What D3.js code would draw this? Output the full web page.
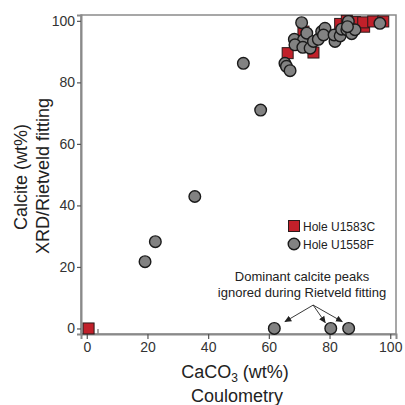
<!DOCTYPE html>
<html>
<head>
<meta charset="utf-8">
<script src="https://cdn.jsdelivr.net/npm/d3@7"></script>
<style>
  body { margin: 0; background: #fff; }
  text { font-family: "Liberation Sans", Arial, sans-serif; }
</style>
</head>
<body>
<div id="viz"></div>
<script>
// Hole U1583C (red squares): [CaCO3 coulometry, calcite XRD]
const holeU1583C = [
  [0.6, 0], [66.2, 89.5], [71.4, 96.5], [74.7, 89.7], [83.5, 99.0], [85.7, 100],
  [88.4, 99.6], [91.4, 98.1], [91.1, 99.5], [94.4, 99.8], [97.7, 99.8]
];

// Hole U1558F (grey circles)
const holeU1558F = [
  [19.2, 21.7], [22.6, 28.2], [35.6, 42.9], [51.6, 86.2], [57.3, 71.0],
  [61.8, 0], [80.4, 0], [86.3, 0],
  [65.3, 86.2], [65.8, 85.2], [67.0, 83.8],
  [70.8, 99.4], [68.4, 94.0], [71.4, 93.8], [68.6, 92.2], [71.2, 91.4], [73.6, 91.1],
  [72.5, 96.0], [74.7, 93.3], [76.3, 94.0], [77.4, 96.5], [78.5, 97.6], [78.0, 95.4],
  [81.8, 93.3], [81.5, 95.4], [83.5, 95.1], [84.0, 97.3], [86.2, 99.8], [85.7, 97.1],
  [87.3, 95.8], [88.4, 97.1], [85.9, 98.1], [96.6, 99.2]
];

const xTicks = [0, 20, 40, 60, 80, 100];
const yTicks = [0, 20, 40, 60, 80, 100];
const innerTicks = [3.7];

// annotation arrows (data units): one origin, three targets
const arrowFrom = [74.6, 7.6];
const arrowTo = [[65.3, 2.2], [78.6, 1.9], [84.2, 2.2]];
const noteLines = ["Dominant calcite peaks", "ignored during Rietveld fitting"];

const W = 405, H = 405;
const mLeft = 81, mRight = 396, mTop = 15, mBottom = 334;

const svg = d3.select("#viz").append("svg")
    .attr("width", W)
    .attr("height", H);

const x = d3.scaleLinear().domain([-1.9, 101.9]).range([mLeft, mRight]);
const y = d3.scaleLinear().domain([-1.8, 101.9]).range([mBottom, mTop]);

svg.append("defs").append("marker")
    .attr("id", "arrow")
    .attr("viewBox", "0 -5 10 10")
    .attr("refX", 9)
    .attr("refY", 0)
    .attr("orient", "auto")
    .attr("markerWidth", 7)
    .attr("markerHeight", 7)
    .attr("markerUnits", "userSpaceOnUse")
    .append("path")
    .attr("d", "M0,-4.5L10,0L0,4.5Z")
    .attr("fill", "#222");

// frame
svg.append("rect")
    .attr("x", mLeft).attr("y", mTop)
    .attr("width", mRight - mLeft).attr("height", mBottom - mTop)
    .attr("fill", "none")
    .attr("stroke", "#8a8a8a")
    .attr("stroke-width", 1.5);

// axes
const xAxis = svg.append("g")
    .attr("transform", "translate(0," + mBottom + ")")
    .call(d3.axisBottom(x).tickValues(xTicks).tickSize(5).tickPadding(3));
const yAxis = svg.append("g")
    .attr("transform", "translate(" + mLeft + ",0)")
    .call(d3.axisLeft(y).tickValues(yTicks).tickSize(4).tickPadding(2));

[xAxis, yAxis].forEach(g => {
  g.select(".domain").attr("stroke", "#8a8a8a").attr("stroke-width", 2);
  g.selectAll(".tick line").attr("stroke", "#555").attr("stroke-width", 1.2);
  g.selectAll(".tick text")
      .attr("fill", "#333")
      .style("font-size", "14px")
      .style("font-family", "'Liberation Sans', Arial, sans-serif");
});

svg.selectAll(".inner-tick")
    .data(innerTicks)
    .enter().append("line")
    .attr("class", "inner-tick")
    .attr("x1", d => x(d)).attr("x2", d => x(d))
    .attr("y1", mBottom).attr("y2", mBottom - 5)
    .attr("stroke", "#8a8a8a")
    .attr("stroke-width", 1.5);

// squares first, circles on top
const sq = 11;
svg.selectAll(".sq")
    .data(holeU1583C)
    .enter().append("rect")
    .attr("class", "sq")
    .attr("x", d => x(d[0]) - sq / 2)
    .attr("y", d => y(d[1]) - sq / 2)
    .attr("width", sq).attr("height", sq)
    .attr("fill", "#c1202a")
    .attr("stroke", "#2a1a1a")
    .attr("stroke-width", 1);

svg.selectAll(".dot")
    .data(holeU1558F)
    .enter().append("circle")
    .attr("class", "dot")
    .attr("cx", d => x(d[0]))
    .attr("cy", d => y(d[1]))
    .attr("r", 5.8)
    .attr("fill", "#828282")
    .attr("stroke", "#1a1a1a")
    .attr("stroke-width", 1.4);

// annotation
svg.selectAll(".note-arrow")
    .data(arrowTo)
    .enter().append("line")
    .attr("class", "note-arrow")
    .attr("x1", x(arrowFrom[0])).attr("y1", y(arrowFrom[1]))
    .attr("x2", d => x(d[0])).attr("y2", d => y(d[1]))
    .attr("stroke", "#222")
    .attr("stroke-width", 0.9)
    .attr("marker-end", "url(#arrow)");

svg.selectAll(".note")
    .data(noteLines)
    .enter().append("text")
    .attr("class", "note")
    .attr("x", 302)
    .attr("y", (d, i) => 281 + i * 16)
    .attr("text-anchor", "middle")
    .attr("fill", "#222")
    .style("font-size", "13px")
    .text(d => d);

// legend
const legend = svg.append("g").attr("transform", "translate(294,226)");
legend.append("rect")
    .attr("x", -sq / 2).attr("y", -sq / 2)
    .attr("width", sq).attr("height", sq)
    .attr("fill", "#c1202a").attr("stroke", "#2a1a1a");
legend.append("text").attr("x", 9).attr("y", 4.5)
    .attr("fill", "#222").style("font-size", "12px").text("Hole U1583C");
legend.append("circle")
    .attr("cx", 0).attr("cy", 18).attr("r", 5.8)
    .attr("fill", "#828282").attr("stroke", "#1a1a1a").attr("stroke-width", 1.4);
legend.append("text").attr("x", 9).attr("y", 22.5)
    .attr("fill", "#222").style("font-size", "12px").text("Hole U1558F");

// axis titles
const xt = svg.append("text")
    .attr("x", 235).attr("y", 378)
    .attr("text-anchor", "middle")
    .attr("fill", "#222")
    .style("font-size", "18px");
xt.append("tspan").text("CaCO");
xt.append("tspan").attr("dy", 4).style("font-size", "12px").text("3");
xt.append("tspan").attr("dy", -4).text(" (wt%)");

svg.append("text")
    .attr("x", 237).attr("y", 402)
    .attr("text-anchor", "middle")
    .attr("fill", "#222")
    .style("font-size", "18px")
    .text("Coulometry");

svg.append("text")
    .attr("transform", "translate(27,177) rotate(-90)")
    .attr("text-anchor", "middle")
    .attr("fill", "#222")
    .style("font-size", "18px")
    .text("Calcite (wt%)");

svg.append("text")
    .attr("transform", "translate(49,176) rotate(-90)")
    .attr("text-anchor", "middle")
    .attr("fill", "#222")
    .style("font-size", "18px")
    .text("XRD/Rietveld fitting");
</script>
</body>
</html>
